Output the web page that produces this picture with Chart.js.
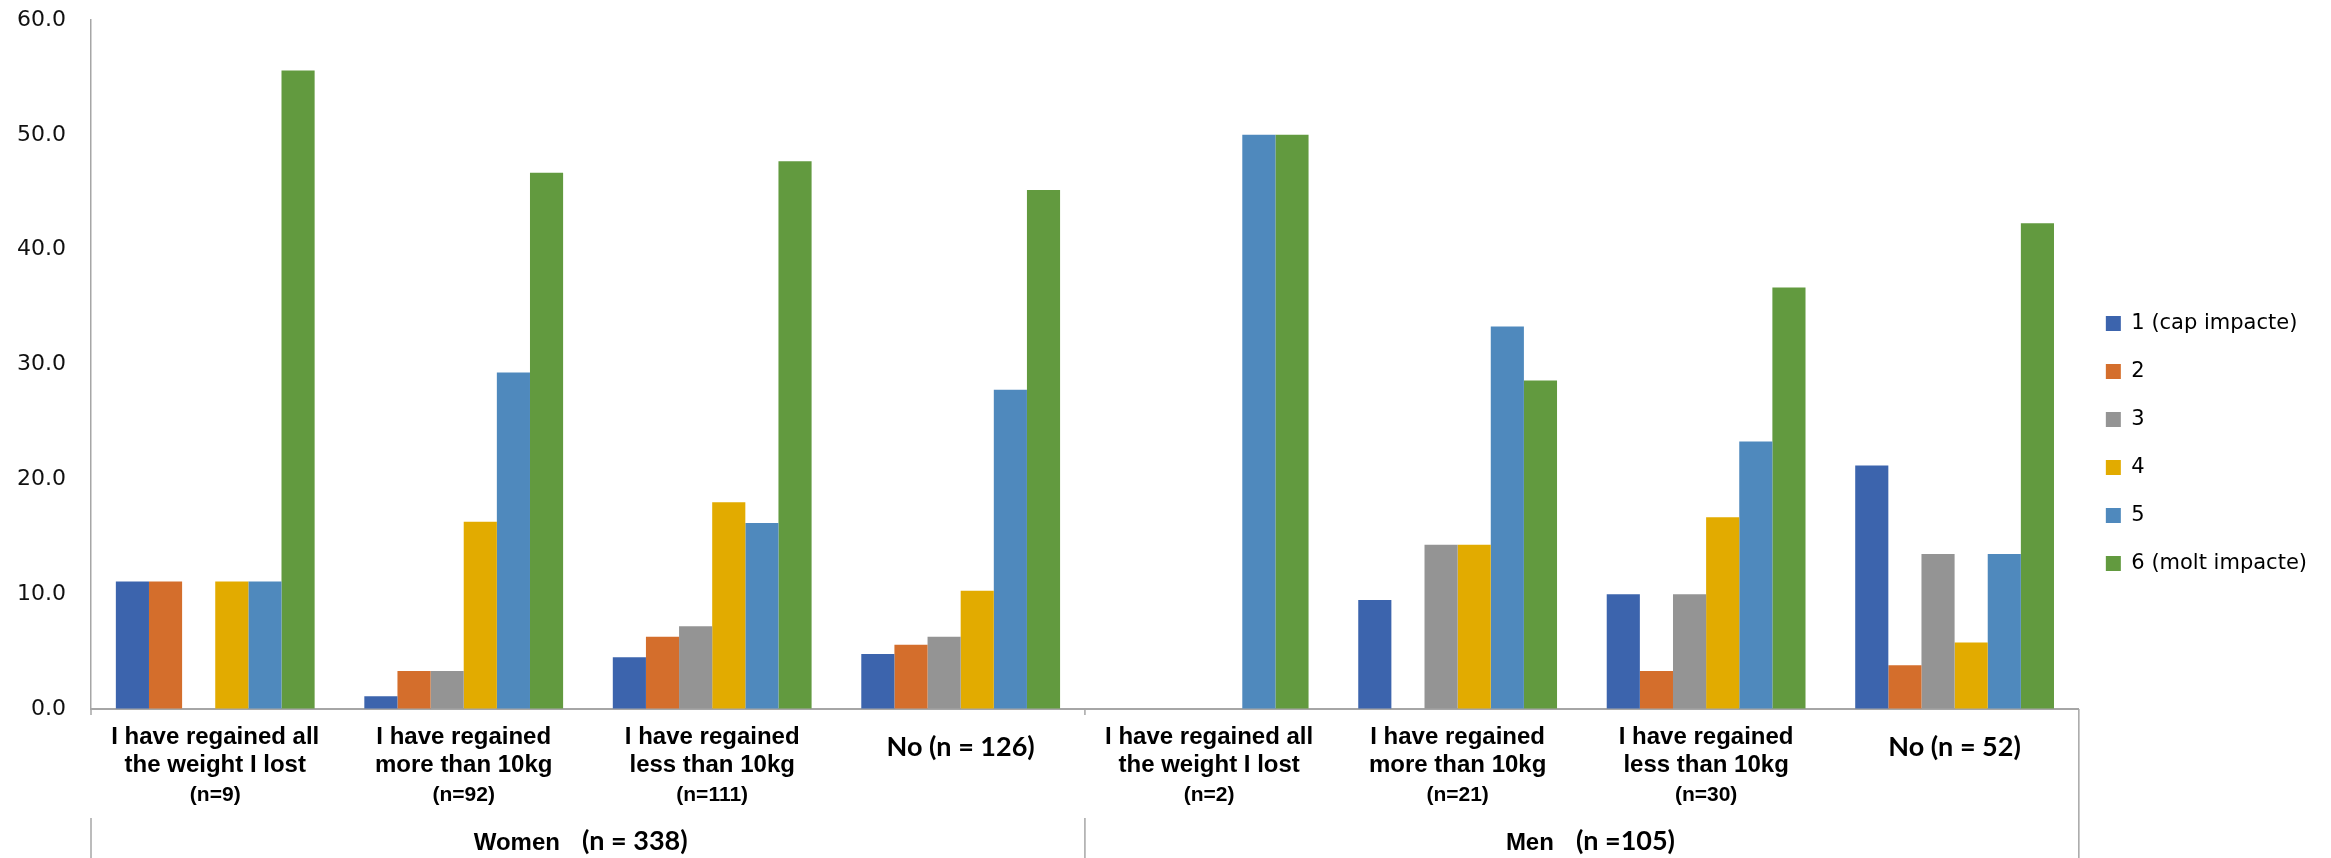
<!DOCTYPE html>
<html>
<head>
<meta charset="utf-8">
<script src="https://cdn.jsdelivr.net/npm/chart.js@4.4.1/dist/chart.umd.min.js"></script>
<style>
  body { margin: 0; background: #fff; }
</style>
</head>
<body>
<canvas id="chart" width="2331" height="858"></canvas>
<script>
// categories (two lines of text + group size underneath)
let categoryLines = [
    ["I have regained all", "the weight I lost"],
    ["I have regained", "more than 10kg"],
    ["I have regained", "less than 10kg"],
    ["No (n = 126)"],
    ["I have regained all", "the weight I lost"],
    ["I have regained", "more than 10kg"],
    ["I have regained", "less than 10kg"],
    ["No (n = 52)"]
]
let categoryN = ["(n=9)", "(n=92)", "(n=111)", "", "(n=2)", "(n=21)", "(n=30)", ""]

let groupNames = ["Women", "Men"]
let groupN = ["(n = 338)", "(n =105)"]

let seriesNames = ["1 (cap impacte)", "2", "3", "4", "5", "6 (molt impacte)"]

// percentages per category
let impact1 = [11.1, 1.1, 4.5, 4.8, 0, 9.5, 10.0, 21.2]
let impact2 = [11.1, 3.3, 6.3, 5.6, 0, 0, 3.3, 3.8]
let impact3 = [0, 3.3, 7.2, 6.3, 0, 14.3, 10.0, 13.5]
let impact4 = [11.1, 16.3, 18.0, 10.3, 0, 14.3, 16.7, 5.8]
let impact5 = [11.1, 29.3, 16.2, 27.8, 50.0, 33.3, 23.3, 13.5]
let impact6 = [55.6, 46.7, 47.7, 45.2, 50.0, 28.6, 36.7, 42.3]

let colors = ["#3C64AD", "#D46E2C", "#949494", "#E2AB00", "#4F89BD", "#629A3F"]
let axisGray = "#A6A6A6"

let series = [impact1, impact2, impact3, impact4, impact5, impact6]

// category text under the axis, group labels and separators
let categoryText = {
    id: "categoryText",
    afterDraw(chart)
    {
        let ctx = chart.ctx;
        let x = chart.scales.x;
        let base = chart.chartArea.bottom;
        ctx.save();
        ctx.fillStyle = "#000";
        ctx.textAlign = "center";
        ctx.textBaseline = "middle";
        for (let i = 0; i < categoryLines.length; i++)
        {
            let cx = x.getPixelForValue(i);
            let lines = categoryLines[i];
            if (lines.length == 1)
            {
                ctx.font = 'bold 27px Lato';
                ctx.fillText(lines[0], cx, base + 38);
            }
            else
            {
                ctx.font = 'bold 24px "Liberation Sans"';
                ctx.fillText(lines[0], cx, base + 28);
                ctx.fillText(lines[1], cx, base + 56);
                ctx.font = 'bold 21px "Liberation Sans"';
                ctx.fillText(categoryN[i], cx, base + 86);
            }
        }

        // group boundaries
        let mid = (x.getPixelForValue(3) + x.getPixelForValue(4)) / 2;
        let edges = [x.left, mid, x.right];
        let h = chart.height;
        ctx.strokeStyle = axisGray;
        ctx.lineWidth = 1.5;
        ctx.beginPath();
        for (let j = 0; j < 2; j++)
        {
            ctx.moveTo(edges[j], base);
            ctx.lineTo(edges[j], base + 6);
            ctx.moveTo(edges[j], base + 109);
            ctx.lineTo(edges[j], h);
        }
        ctx.moveTo(edges[2], base);
        ctx.lineTo(edges[2], h);
        ctx.stroke();

        for (let j = 0; j < groupNames.length; j++)
        {
            let gc = (edges[j] + edges[j + 1]) / 2 - 17;
            ctx.textAlign = "right";
            ctx.font = 'bold 24px "Liberation Sans"';
            ctx.fillText(groupNames[j], gc - 11, base + 134);
            ctx.textAlign = "left";
            ctx.font = 'bold 27px Lato';
            ctx.fillText(groupN[j], gc + 11, base + 132);
        }
        ctx.restore();
    }
}

// move the legend down so it sits where the original one is
let legendPlace = {
    id: "legendPlace",
    afterLayout(chart)
    {
        let lg = chart.legend;
        let hgt = lg.bottom - lg.top;
        lg.top = 286;
        lg.bottom = 286 + hgt;
    }
}

let datasets = [];
for (let i = 0; i < series.length; i++)
{
    datasets.push({
        label: seriesNames[i],
        data: series[i],
        backgroundColor: colors[i],
        borderWidth: 0
    });
}

let myChart = document.getElementById("chart").getContext("2d");
let display = new Chart(myChart,
{
    type: 'bar',
    data:
    {
        labels: categoryLines.map(function(l, i) { return l.join(" ") + " " + categoryN[i]; }),
        datasets: datasets
    },
    options:
    {
        responsive: false,
        animation: false,
        devicePixelRatio: 1,
        categoryPercentage: 0.8,
        barPercentage: 1.0,
        layout: { padding: { top: 20, right: 14, bottom: 0, left: 0 } },
        plugins:
        {
            tooltip: { enabled: false },
            legend:
            {
                position: 'right',
                align: 'start',
                labels:
                {
                    font: { family: '"DejaVu Sans"', size: 21 },
                    color: "#000",
                    boxWidth: 15,
                    boxHeight: 15,
                    padding: 27
                }
            }
        },
        scales:
        {
            x:
            {
                grid: { display: true, drawOnChartArea: false, drawTicks: false },
                border: { display: true, color: axisGray, width: 2 },
                ticks: { display: false },
                afterFit: function(s) { s.height = 149; }
            },
            y:
            {
                min: 0,
                max: 60,
                grid: { display: true, drawOnChartArea: false, drawTicks: false },
                border: { display: true, color: axisGray, width: 1.5 },
                ticks:
                {
                    stepSize: 10,
                    padding: 25,
                    color: "#111",
                    font: { family: '"DejaVu Sans"', size: 22 },
                    callback: function(v) { return v.toFixed(1); }
                },
                afterFit: function(s)
                {
                    s.width = 91;
                    // tick padding is only wanted sideways
                    s.paddingTop = 13;
                    s.paddingBottom = 13;
                }
            }
        }
    },
    plugins: [categoryText, legendPlace]
});
</script>
</body>
</html>
